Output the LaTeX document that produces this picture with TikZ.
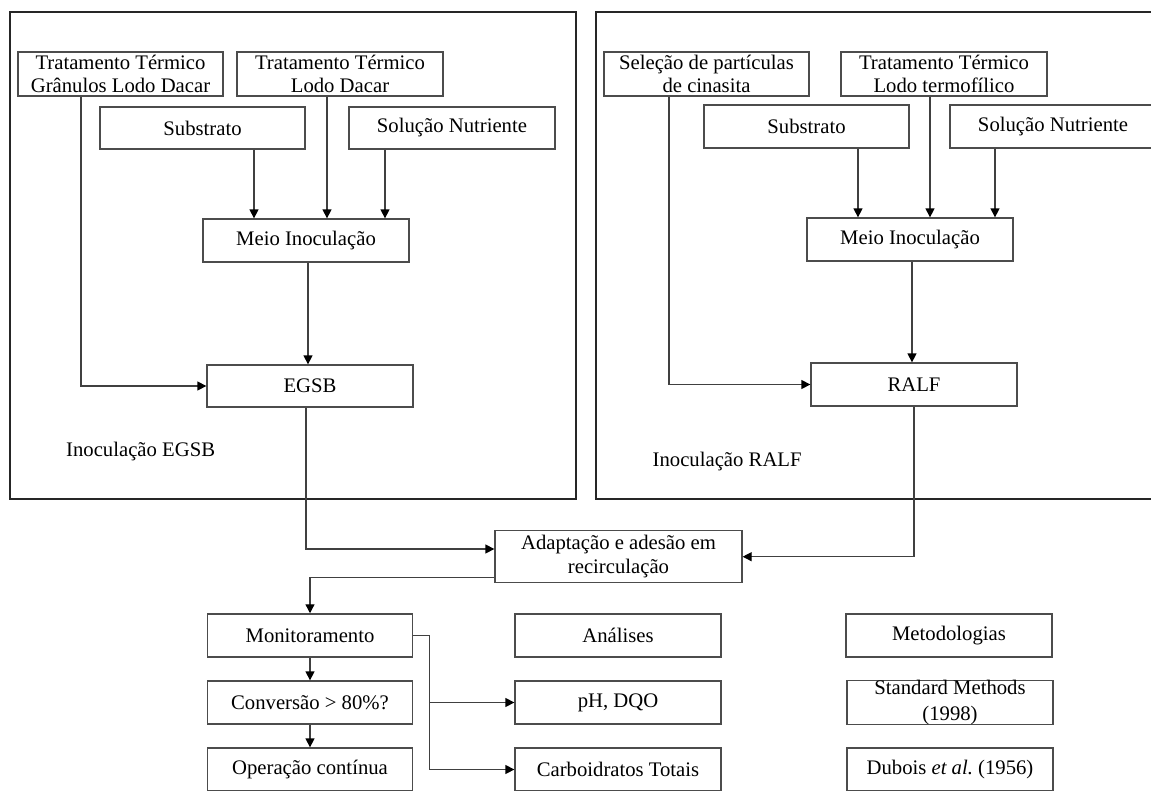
\documentclass[tikz,border=0pt]{standalone}
\usepackage{fontspec}
\setmainfont{Liberation Serif}
\usetikzlibrary{arrows.meta}
\begin{document}
\begin{tikzpicture}[x=1pt,y=-1pt,
  font=\fontsize{20.7}{23.5}\selectfont,
  box/.style={draw=black!70, line width=1.3pt, minimum width=205pt, minimum height=43pt,
              inner sep=0pt, align=center, fill=white},
  frame/.style={draw=black!85, line width=1.3pt, inner sep=0pt},
  link/.style={draw=black!75, line width=1.3pt},
  arr/.style={link, -{Triangle[length=9pt,width=9pt,color=black]}},
  tag/.style={anchor=west, inner sep=0pt}]
\useasboundingbox (0,0) rectangle (1151,790);
\clip (0,0) rectangle (1151,790);

% frames of the two inoculation stages
\node[frame, minimum width=566pt, minimum height=487pt] (frameL) at (293,255.5) {};
\node[frame, minimum width=570pt, minimum height=487pt] (frameR) at (881,255.5) {};

% ---- EGSB inoculation ----
\node[box, minimum height=44pt] (tg) at (120.5,74) {Tratamento Térmico\\Grânulos Lodo Dacar};
\node[box, minimum height=44pt, minimum width=206pt] (tl) at (340,74) {Tratamento Térmico\\Lodo Dacar};
\node[box, minimum height=42pt] (sub) at (202.5,128) {Substrato};
\node[box, minimum height=42pt, minimum width=206pt] (sol) at (452,128) {Solução Nutriente};
\node[box, minimum width=206pt] (meio) at (306,240.5) {Meio Inoculação};
\node[box, minimum width=206pt, minimum height=42pt] (egsb) at (310,386) {EGSB};
\node[tag] (labL) at (66,452) {Inoculação EGSB};

% ---- RALF inoculation ----
\node[box, minimum height=44pt] (sel) at (706.5,74) {Seleção de partículas\\de cinasita};
\node[box, minimum height=44pt, minimum width=206pt] (tt) at (944,74) {Tratamento Térmico\\Lodo termofílico};
\node[box] (sub2) at (806.5,126.5) {Substrato};
\node[box, minimum width=206pt] (sol2) at (1053,126.5) {Solução Nutriente};
\node[box, minimum width=206pt] (meio2) at (910,239.5) {Meio Inoculação};
\node[box, minimum width=206pt] (ralf) at (914,384.5) {RALF};
\node[tag] (labR) at (652.5,462) {Inoculação RALF};

% ---- common stage ----
\node[box, minimum width=247pt, minimum height=52pt] (adapt) at (618.5,556.7) {Adaptação e adesão em\\recirculação};
\node[box] (mon) at (310,635.4) {Monitoramento};
\node[box] (conv) at (310,702.5) {Conversão > 80\%?};
\node[box] (op) at (310,769.5) {Operação contínua};
\node[box, minimum width=206pt] (anal) at (618,635.5) {Análises};
\node[box, minimum width=206pt] (ph) at (618,702.5) {pH, DQO};
\node[box, minimum width=206pt] (carb) at (618,769.5) {Carboidratos Totais};
\node[box, minimum width=206pt] (met) at (949,635.5) {Metodologias};
\node[box, minimum width=206pt, font=\fontsize{20.7}{25.5}\selectfont] (std) at (950,702.5) {Standard Methods\\(1998)};
\node[box, minimum width=206pt] (dub) at (950,769.5) {Dubois \textit{et al.}\ (1956)};

% ---- connectors, EGSB side ----
\coordinate (s1) at ([xshift=51.5pt]sub.south);
\draw[arr] (s1) -- (s1 |- meio.north);
\coordinate (s2) at ([xshift=-13pt]tl.south);
\draw[arr] (s2) -- (s2 |- meio.north);
\coordinate (s3) at ([xshift=-67pt]sol.south);
\draw[arr] (s3) -- (s3 |- meio.north);
\coordinate (s4) at ([xshift=2pt]meio.south);
\draw[arr] (s4) -- (s4 |- egsb.north);
\draw[arr] ([xshift=-39.5pt]tg.south) |- (egsb.west);

% ---- connectors, RALF side ----
\coordinate (r1) at ([xshift=51.5pt]sub2.south);
\draw[arr] (r1) -- (r1 |- meio2.north);
\coordinate (r2) at ([xshift=-14pt]tt.south);
\draw[arr] (r2) -- (r2 |- meio2.north);
\coordinate (r3) at ([xshift=-58pt]sol2.south);
\draw[arr] (r3) -- (r3 |- meio2.north);
\coordinate (r4) at ([xshift=2pt]meio2.south);
\draw[arr] (r4) -- (r4 |- ralf.north);
\draw[arr] ([xshift=-37.5pt]sel.south) |- (ralf.west);

% ---- connectors into and out of the common stage ----
\draw[arr] ([xshift=-4pt]egsb.south) |- ([yshift=7.7pt]adapt.west);
\draw[arr] (ralf.south) |- (adapt.east);
\draw[arr] ([yshift=-21pt]adapt.west) -| (mon.north);
\draw[arr] (mon.south) -- (conv.north);
\draw[arr] (conv.south) -- (op.north);
\draw[link] (mon.east) -- ++(16,0) coordinate (j);
\draw[arr] (j) |- (ph.west);
\draw[arr] (j) |- (carb.west);
\end{tikzpicture}
\end{document}
